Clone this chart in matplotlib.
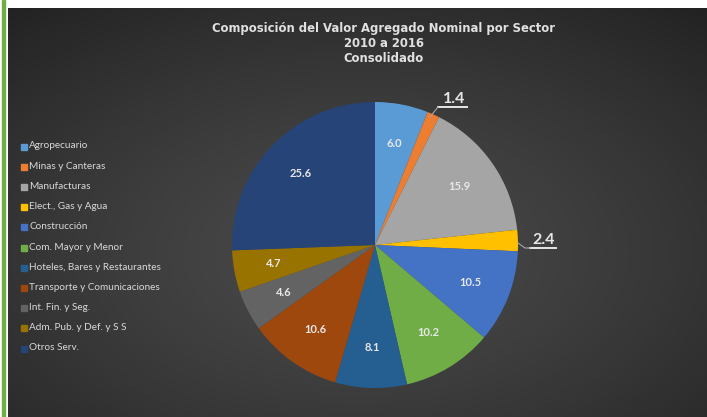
import numpy as np
import matplotlib.pyplot as plt

# Data
sectors = ['Agropecuario', 'Minas y Canteras', 'Manufacturas', 'Elect., Gas y Agua',
           'Construcción', 'Com. Mayor y Menor', 'Hoteles, Bares y Restaurantes',
           'Transporte y Comunicaciones', 'Int. Fin. y Seg.', 'Adm. Pub. y Def. y S S',
           'Otros Serv.']
values = [6.0, 1.4, 15.9, 2.4, 10.5, 10.2, 8.1, 10.6, 4.6, 4.7, 25.6]
colors = ['#5B9BD5', '#ED7D31', '#A5A5A5', '#FFC000', '#4472C4', '#70AD47',
          '#255E91', '#9E480E', '#636363', '#997300', '#264478']
outside = [1, 3]  # labels drawn outside with leader lines

plt.rcParams['font.family'] = ['Lato', 'DejaVu Sans']
W, H = 707, 417
fig = plt.figure(figsize=(W / 100, H / 100), dpi=100)
fig.patch.set_facecolor('white')

# green border line at left
fig.patches.append(plt.Rectangle((2 / W, 0), 3 / W, 1, transform=fig.transFigure,
                                 color='#70AD47', zorder=0))

# dark radial gradient background
bg = fig.add_axes([8 / W, 0, 1 - 8 / W, (H - 8) / H])
yy, xx = np.mgrid[0:1:300j, 0:1:500j]
r = np.sqrt(((xx - 0.5) / 0.8) ** 2 + ((yy - 0.6) / 0.8) ** 2)
shade = 0.29 - 0.16 * np.clip(r, 0, 1) ** 1.3
bg.imshow(np.dstack([shade] * 3), aspect='auto', extent=[0, 1, 0, 1])
bg.set_xlim(0, 1)
bg.set_ylim(0, 1)
bg.axis('off')

# pie
cx, cy, rad = 375, 245, 143
ax = fig.add_axes([(cx - rad) / W, (H - cy - rad) / H, 2 * rad / W, 2 * rad / H])
wedges, _ = ax.pie(values, colors=colors, startangle=90, counterclock=False, radius=1,
                   wedgeprops=dict(linewidth=0))
ax.set_xlim(-1, 1)
ax.set_ylim(-1, 1)
ax.set_aspect('auto')
ax.axis('off')

cum = 0
for i, v in enumerate(values):
    mid = np.deg2rad(90 - (cum + v / 2) * 3.6)
    cum += v
    if i in outside:
        continue
    ax.text(0.72 * np.cos(mid), 0.72 * np.sin(mid), f'{v:.1f}', ha='center', va='center',
            color='#E8E8E8', fontsize=8, fontweight='bold')

# outside labels with leader lines (pixel coordinates)
def px(x, y):
    return x / W, 1 - y / H

for text, tx, ty, ux0, ux1, uy, lead in [
        (f'{values[1]:.1f}', 454, 99, 438, 467, 107, [(438, 107), (430, 117)]),
        (f'{values[3]:.1f}', 544, 240, 530, 556, 248, [(530, 248), (525, 248), (518, 243)])]:
    fig.text(*px(tx, ty), text, ha='center', va='center', color='#E6E6E6',
             fontsize=11.5, fontweight='bold')
    fig.add_artist(plt.Line2D([ux0 / W, ux1 / W], [1 - uy / H] * 2, color='#E6E6E6', lw=1.4))
    lx, ly = zip(*lead)
    fig.add_artist(plt.Line2D([x / W for x in lx], [1 - y / H for y in ly],
                              color='#A6A6A6', lw=0.8))

# title
for k, line in enumerate(['Composición del Valor Agregado Nominal por Sector',
                          '2010 a 2016', 'Consolidado']):
    fig.text(*px(384, 28.5 + k * 15), line, ha='center', va='center', color='#E0E0E0',
             fontsize=8.4, fontweight='bold', family='DejaVu Sans')

# legend
for k, (name, c) in enumerate(zip(sectors, colors)):
    y = 146 + k * 20.2
    fig.patches.append(plt.Rectangle(px(21, y + 3.5), 6 / W, 6 / H,
                                     transform=fig.transFigure, color=c))
    fig.text(*px(29, y), name, ha='left', va='center', color='#D9D9D9', fontsize=7.2)

fig.savefig('out.png', dpi=100, facecolor=fig.get_facecolor())
